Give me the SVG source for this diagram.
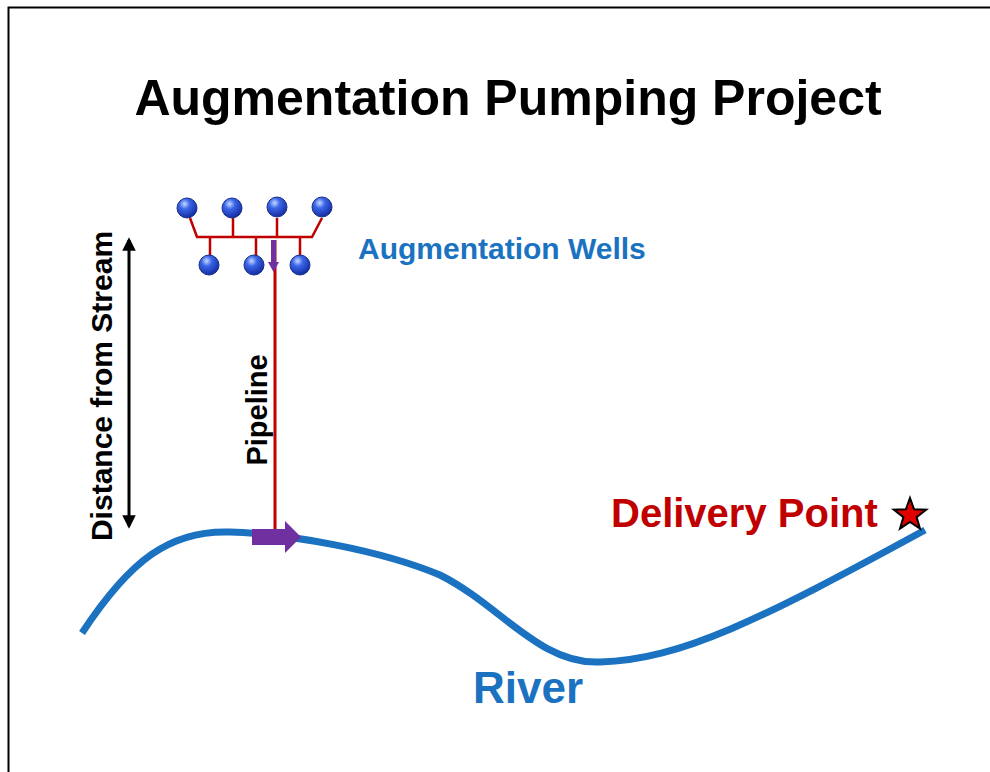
<svg xmlns="http://www.w3.org/2000/svg" width="990" height="772" viewBox="0 0 990 772">
<defs>
<style>
.t{font-family:"Liberation Sans",Arial,sans-serif;font-weight:bold}
.pipe{stroke:#c00000;stroke-width:2.5;fill:none}
.well{fill:url(#ball);stroke:#1a2f8a;stroke-width:1}
</style>
<radialGradient id="ball" cx="0.38" cy="0.3" r="0.75">
<stop offset="0" stop-color="#c8d8ff"/>
<stop offset="0.35" stop-color="#3a66e8"/>
<stop offset="1" stop-color="#10269a"/>
</radialGradient>
<marker id="ah" viewBox="0 0 10 10" refX="8" refY="5" markerWidth="4.5" markerHeight="4.5" orient="auto-start-reverse">
<path d="M0,0 L10,5 L0,10 z" fill="#000"/>
</marker>
</defs>
<rect width="990" height="772" fill="#fff"/>
<path d="M8.5,772 V7.5 H990" fill="none" stroke="#000" stroke-width="2"/>
<text class="t" x="508" y="115" font-size="50" text-anchor="middle" fill="#000">Augmentation Pumping Project</text>

<g id="river">
<path d="M82,633 C130,560 170,530 230,532 C290,534 380,550 440,575 C500,605 540,665 600,662 C680,660 760,620 925,530" fill="none" stroke="#1a72c0" stroke-width="7"/>
<text class="t" x="528" y="703" font-size="44" text-anchor="middle" fill="#1a72c0">River</text>
</g>

<g id="wells">
<path class="pipe" d="M190,218 L197,237 H312 L322,218 M233,218 V237 M277,218 V237 M210,237 V256 M256,237 V256 M300,237 V256"/>
<circle class="well" cx="187" cy="208" r="10"/>
<circle class="well" cx="232" cy="208" r="10"/>
<circle class="well" cx="277" cy="207" r="10"/>
<circle class="well" cx="322" cy="207" r="10"/>
<circle class="well" cx="209" cy="265" r="10"/>
<circle class="well" cx="254" cy="265" r="10"/>
<circle class="well" cx="300" cy="265" r="10"/>
<text class="t" x="358" y="259" font-size="30" fill="#1a72c0">Augmentation Wells</text>
</g>

<g id="connectors">
<line x1="275" y1="240" x2="275" y2="532" stroke="#c00000" stroke-width="3"/>
<path d="M271,240 H276 V262 H279 L273.5,272 L268,262 H271 z" fill="#7030a0"/>
<path d="M252,529 H285 V521 L301,537 L285,553 V545 H252 z" fill="#7030a0"/>
<line x1="129" y1="240" x2="129" y2="526" stroke="#000" stroke-width="3" marker-start="url(#ah)" marker-end="url(#ah)"/>
</g>

<g id="labels">
<text class="t" font-size="29" fill="#000" text-anchor="middle" transform="translate(267,410) rotate(-90)">Pipeline</text>
<text class="t" font-size="30" fill="#000" text-anchor="middle" transform="translate(112,386) rotate(-90)">Distance from Stream</text>
</g>

<g id="delivery">
<text class="t" x="611" y="527" font-size="40" fill="#c00000">Delivery Point</text>
<path d="M910,498 L914.1,509.3 L926.2,509.7 L916.6,517.1 L920,528.7 L910,521.9 L900,528.7 L903.4,517.1 L893.8,509.7 L905.9,509.3 z" fill="#e00000" stroke="#000" stroke-width="2"/>
</g>
</svg>
